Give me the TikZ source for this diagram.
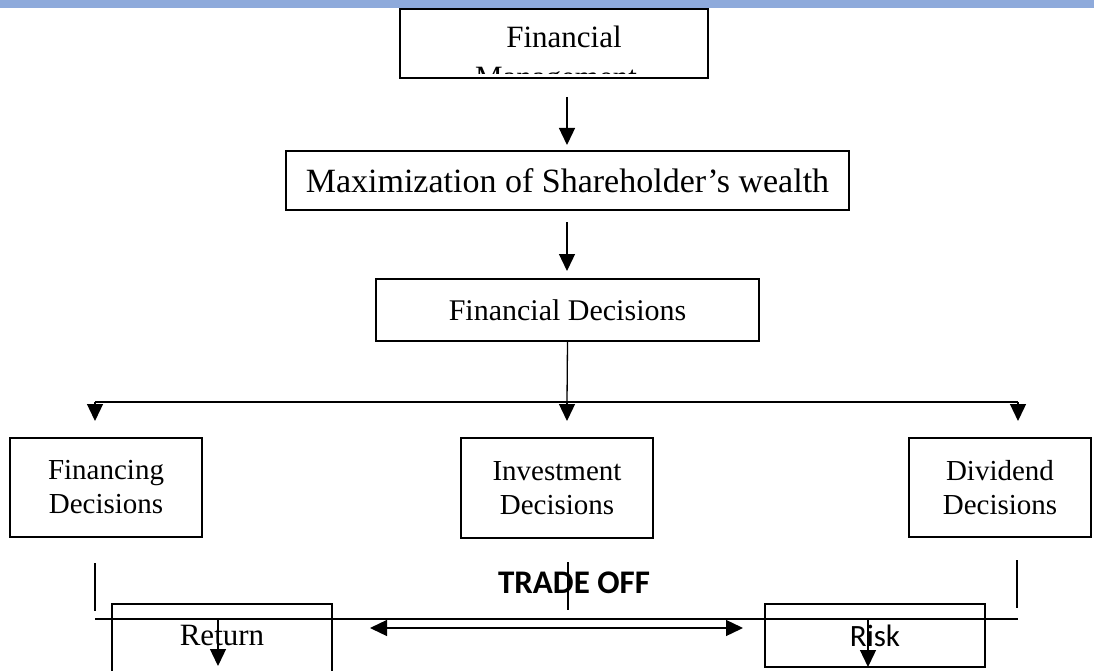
\documentclass[tikz,border=0pt]{standalone}
\usepackage{fontspec}
\setmainfont{Liberation Serif}
\newfontfamily\calib{Carlito}
\usetikzlibrary{arrows.meta}
\definecolor{band}{HTML}{8EAADB}
\begin{document}
\begin{tikzpicture}[x=1pt,y=-1pt,
  box/.style={draw,line width=1.6pt,inner sep=0pt,align=center,font=\fontsize{30}{34}\selectfont},
  dbox/.style={box,font=\fontsize{29}{34}\selectfont},
  lbl/.style={inner sep=0pt,font=\fontsize{31}{34}\selectfont},
  conn/.style={line width=1.3pt},
  arr/.style={conn,-{Triangle[width=16pt,length=17pt]}},
  darr/.style={conn,{Triangle[width=16pt,length=17pt]}-{Triangle[width=16pt,length=17pt]}},
]
\useasboundingbox (0,0) rectangle (1094,671);
\fill[band] (0,0) rectangle (1094,8);

% top box (text clipped)
\node[box,minimum width=308pt,minimum height=69pt] (fm) at (554,43.5) {};
\begin{scope}
  \clip (401,10) rectangle (707,74);
  \node[lbl,anchor=base] (fma) at (564,48) {Financial};
  \node[lbl,anchor=base] (fmb) at (556,88) {Management};
\end{scope}

\node[box,minimum width=563pt,minimum height=59pt,font=\fontsize{34}{38}\selectfont] (mx) at (567.5,180.5) {Maximization of Shareholder’s wealth};
\node[box,minimum width=383pt,minimum height=62pt] (fd) at (567.5,310) {Financial Decisions};

\node[dbox,minimum width=192pt,minimum height=99pt] (fin) at (106,487.5) {Financing\\Decisions};
\node[dbox,minimum width=192pt,minimum height=100pt] (inv) at (557,488) {Investment\\Decisions};
\node[dbox,minimum width=182pt,minimum height=99pt] (div) at (1000,487.5) {Dividend\\Decisions};

\node[box,minimum width=220pt,minimum height=71pt] (ret) at (222,639.5) {};
\node[lbl] (rett) at (222,635) {Return};
\node[box,minimum width=220pt,minimum height=63pt,font=\calib\fontsize{31}{34}\selectfont] (risk) at (875,635.5) {Risk};

% coordinates
\coordinate (a1s) at (567,97);
\coordinate (a1e) at (567,145);
\coordinate (a2s) at (567,222);
\coordinate (a2e) at (567,271);
\coordinate (j) at (567,402);
\coordinate (jl) at (95,402);
\coordinate (jr) at (1018,402);
\coordinate (tl) at (95,421);
\coordinate (tm) at (567,421);
\coordinate (tr) at (1018,421);
\coordinate (vl1) at (95,563);
\coordinate (vl2) at (95,611);
\coordinate (vm1) at (568,562);
\coordinate (vm2) at (568,610);
\coordinate (vr1) at (1017,560);
\coordinate (vr2) at (1017,608);
\coordinate (hl) at (95,619);
\coordinate (hr) at (1018,619);
\coordinate (dl) at (370,628);
\coordinate (dr) at (743,628);
\coordinate (r1) at (218,619);
\coordinate (r2) at (218,666);
\coordinate (k1) at (868,619);
\coordinate (k2) at (868,667);

\draw[arr] (a1s) -- (a1e);
\draw[arr] (a2s) -- (a2e);
\draw[conn] (fd.south) -- (j);
\draw[conn] (jl) -- (jr);
\draw[arr] (jl) -- (tl);
\draw[arr] (j) -- (tm);
\draw[arr] (jr) -- (tr);

\node[inner sep=0pt,font=\calib\bfseries\fontsize{33}{36}\selectfont] (to) at (574,583) {TRADE OFF};

\draw[conn] (vl1) -- (vl2);
\draw[conn] (vm1) -- (vm2);
\draw[conn] (vr1) -- (vr2);
\draw[conn] (hl) -- (hr);
\draw[darr] (dl) -- (dr);
\draw[arr] (r1) -- (r2);
\draw[arr] (k1) -- (k2);
\end{tikzpicture}
\end{document}
